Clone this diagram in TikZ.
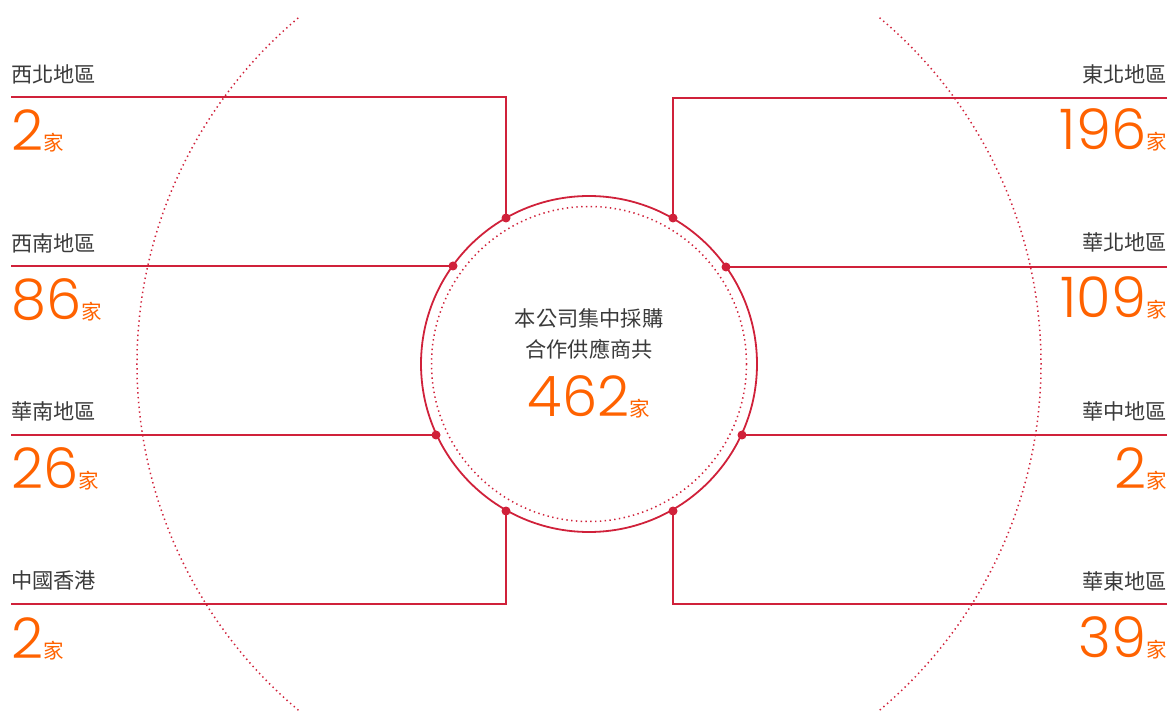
\documentclass[tikz,border=0pt]{standalone}
\usepackage{fontspec}
\setmainfont{Noto Sans CJK TC}
\newfontfamily\numfont{Poppins Light}
\definecolor{linered}{HTML}{D0213A}
\definecolor{numorange}{HTML}{FF6200}
\definecolor{txtgrey}{HTML}{3A3A3A}
\begin{document}
\begin{tikzpicture}[x=1pt,y=-1pt,
  conn/.style={draw=linered,line width=1.3pt},
  joint/.style={circle,fill=linered,inner sep=0pt,minimum size=9pt},
  region/.style={inner sep=0pt,text=txtgrey,font=\fontsize{21.2}{25}\selectfont},
  count/.style={inner sep=0pt,text=numorange},
  dotline/.style={draw=linered,line width=1.5pt,dash pattern=on 1.4pt off 3.4pt}]
\useasboundingbox (0,0) rectangle (1171,711);
\newcommand{\cnt}[1]{{\numfont\fontsize{56}{60}\selectfont #1}{\fontsize{20.5}{24}\selectfont 家}}
\coordinate (c) at (589,364);
% big dotted arcs
\draw[dotline] (c) ++(130:452) arc[start angle=130,end angle=230,radius=452];
\draw[dotline] (c) ++(-50:452) arc[start angle=-50,end angle=50,radius=452];
% circles
\node[circle,draw=linered,line width=1.8pt,minimum size=336pt,inner sep=0pt] (outer) at (c) {};
\draw[dotline] (c) circle[radius=157.5];
% joints
\node[joint] (d1) at (506,218) {};
\node[joint] (d2) at (453,266) {};
\node[joint] (d3) at (436,435) {};
\node[joint] (d4) at (506,511) {};
\node[joint] (d5) at (673,218) {};
\node[joint] (d6) at (726,267) {};
\node[joint] (d7) at (742,435) {};
\node[joint] (d8) at (673,511) {};
% line ends
\coordinate (l1) at (11,97);  \coordinate (k1) at (506,97);
\coordinate (l2) at (11,266);
\coordinate (l3) at (11,435);
\coordinate (l4) at (11,604); \coordinate (k4) at (506,604);
\coordinate (r1) at (1167,98); \coordinate (k5) at (673,98);
\coordinate (r2) at (1167,267);
\coordinate (r3) at (1167,435);
\coordinate (r4) at (1167,604); \coordinate (k8) at (673,604);
\draw[conn] (l1) -- (k1) -- (d1.center);
\draw[conn] (l2) -- (d2.center);
\draw[conn] (l3) -- (d3.center);
\draw[conn] (l4) -- (k4) -- (d4.center);
\draw[conn] (r1) -- (k5) -- (d5.center);
\draw[conn] (r2) -- (d6.center);
\draw[conn] (r3) -- (d7.center);
\draw[conn] (r4) -- (k8) -- (d8.center);
% left labels
\node[region,anchor=west] (t1) at (11,74) {西北地區};
\node[count,anchor=base west] (n1) at (11,151) {\cnt{2}};
\node[region,anchor=west] (t2) at (11,243) {西南地區};
\node[count,anchor=base west] (n2) at (11,320) {\cnt{86}};
\node[region,anchor=west] (t3) at (11,411) {華南地區};
\node[count,anchor=base west] (n3) at (11,489) {\cnt{26}};
\node[region,anchor=west] (t4) at (11,580) {中國香港};
\node[count,anchor=base west] (n4) at (11,658) {\cnt{2}};
% right labels
\node[region,anchor=east] (t5) at (1167,74) {東北地區};
\node[count,anchor=base east] (n5) at (1167,150) {\cnt{196}};
\node[region,anchor=east] (t6) at (1167,242) {華北地區};
\node[count,anchor=base east] (n6) at (1167,318) {\cnt{109}};
\node[region,anchor=east] (t7) at (1167,411) {華中地區};
\node[count,anchor=base east] (n7) at (1167,488) {\cnt{2}};
\node[region,anchor=east] (t8) at (1167,581) {華東地區};
\node[count,anchor=base east] (n8) at (1167,657) {\cnt{39}};
% centre
\node[region] (m1) at (589,318) {本公司集中採購};
\node[region] (m2) at (589,349) {合作供應商共};
\node[count,anchor=base] (m3) at (589,417) {\cnt{462}};
\end{tikzpicture}
\end{document}
